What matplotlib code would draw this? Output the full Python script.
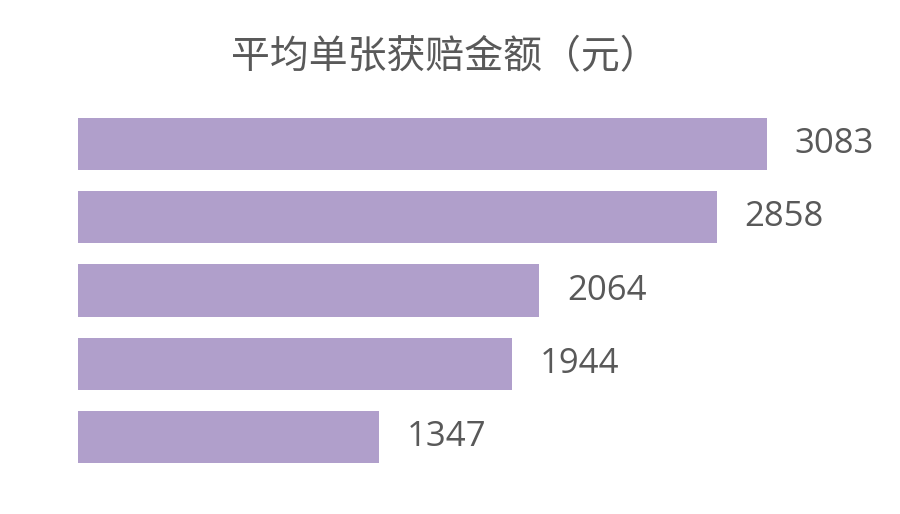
import matplotlib
matplotlib.use("Agg")
import matplotlib.pyplot as plt

title = "平均单张获赔金额（元）"
values = [3083, 2858, 2064, 1944, 1347]

fig = plt.figure(figsize=(9, 5.14), dpi=100)
ax = fig.add_axes([78/900, 1-473.6/514, 822/900, (473.6-107.4)/514])
ypos = list(range(len(values)))
ax.barh(ypos, values, height=0.71, color="#B09FCB")
ax.set_xlim(0, 822/0.2235)
ax.set_ylim(4.5, -0.5)
ax.axis("off")
for y, v in zip(ypos, values):
    ax.annotate(str(v), (v, y), xytext=(20, 0), textcoords="offset points",
                ha="left", va="center", fontsize=25, color="#595959",
                family="Open Sans")
fig.text(445/900, 1-57/514, title, ha="center", va="center", fontsize=28,
         color="#595959", family="Noto Sans CJK SC")
fig.savefig("out.png", dpi=100, facecolor="white")
